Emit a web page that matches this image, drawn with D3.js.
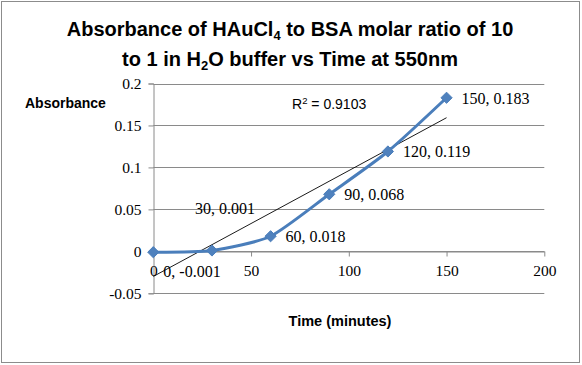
<!DOCTYPE html>
<html>
<head>
<meta charset="utf-8">
<script src="https://cdn.jsdelivr.net/npm/d3@7"></script>
<style>
  body { margin: 0; background: #fff; }
  svg { display: block; }
</style>
</head>
<body>
<svg id="chart" width="582" height="365"></svg>
<script>
// Data
const times = [0, 30, 60, 90, 120, 150];
const absorbance = [-0.001, 0.001, 0.018, 0.068, 0.119, 0.183];
const pointLabels = ['0, -0.001', '30, 0.001', '60, 0.018', '90, 0.068', '120, 0.119', '150, 0.183'];
const xTicks = [0, 50, 100, 150, 200];
const yTicks = [-0.05, 0, 0.05, 0.1, 0.15, 0.2];
const rSquared = '0.9103';

const svg = d3.select('#chart');
const width = 582, height = 365;

// plot area
const plotLeft = 153.3, plotRight = 544.3, plotTop = 83.5, plotBottom = 293.3;

const x = d3.scaleLinear().domain([0, 200]).range([plotLeft, plotRight]);
const y = d3.scaleLinear().domain([-0.05, 0.2]).range([plotBottom, plotTop]);

// outer frame
svg.append('rect')
    .attr('x', 1.5).attr('y', 1.5)
    .attr('width', width - 4).attr('height', height - 4)
    .attr('fill', '#fff')
    .attr('stroke', '#8c8c8c')
    .attr('stroke-width', 1);

// title, two lines with subscripts
const line1 = svg.append('text')
    .attr('text-anchor', 'middle')
    .attr('font-family', 'Liberation Sans, Arial, sans-serif')
    .attr('font-weight', 'bold')
    .attr('font-size', '20px')
    .attr('x', 290).attr('y', 36);
line1.append('tspan').text('Absorbance of HAuCl');
line1.append('tspan').attr('dy', 4).attr('font-size', '13px').text('4');
line1.append('tspan').attr('dy', -4).text(' to BSA molar ratio of 10');

const line2 = svg.append('text')
    .attr('text-anchor', 'middle')
    .attr('font-family', 'Liberation Sans, Arial, sans-serif')
    .attr('font-weight', 'bold')
    .attr('font-size', '20px')
    .attr('x', 290).attr('y', 66);
line2.append('tspan').text('to 1 in H');
line2.append('tspan').attr('dy', 4).attr('font-size', '13px').text('2');
line2.append('tspan').attr('dy', -4).text('O buffer vs Time at 550nm');

// horizontal gridlines
svg.append('g')
    .selectAll('line')
    .data(yTicks)
    .enter().append('line')
    .attr('x1', plotLeft).attr('x2', plotRight)
    .attr('y1', d => Math.round(y(d)) + 0.5)
    .attr('y2', d => Math.round(y(d)) + 0.5)
    .attr('stroke', '#8a8a8a')
    .attr('stroke-width', 1);

// y axis
const yAxis = d3.axisLeft(y).tickValues(yTicks).tickSize(5).tickFormat(d => String(+d.toFixed(2)));
const gy = svg.append('g')
    .attr('transform', `translate(${Math.round(plotLeft) + 0.5},0)`)
    .call(yAxis);
gy.select('.domain').attr('stroke', '#8a8a8a');
gy.selectAll('.tick line').attr('stroke', '#8a8a8a');
gy.selectAll('.tick text')
    .attr('font-family', 'Liberation Serif, Times New Roman, serif')
    .attr('font-size', '15.5px')
    .attr('fill', '#000')
    .attr('x', -12);

// x axis crossing at y = 0
const xAxis = d3.axisBottom(x).tickValues(xTicks).tickSize(5).tickSizeOuter(0);
const gx = svg.append('g')
    .attr('transform', `translate(0,${Math.round(y(0)) + 0.5})`)
    .call(xAxis);
gx.select('.domain').attr('stroke', '#8a8a8a');
gx.selectAll('.tick line').attr('stroke', '#8a8a8a');
gx.selectAll('.tick text')
    .attr('font-family', 'Liberation Serif, Times New Roman, serif')
    .attr('font-size', '15.5px')
    .attr('fill', '#000')
    .attr('y', 13);

// axis titles
svg.append('text')
    .attr('x', 25).attr('y', 108)
    .attr('font-family', 'Liberation Sans, Arial, sans-serif')
    .attr('font-weight', 'bold')
    .attr('font-size', '14px')
    .text('Absorbance');
svg.append('text')
    .attr('x', 340).attr('y', 326)
    .attr('text-anchor', 'middle')
    .attr('font-family', 'Liberation Sans, Arial, sans-serif')
    .attr('font-weight', 'bold')
    .attr('font-size', '14.5px')
    .text('Time (minutes)');

// linear trendline (least squares over the points)
const mx = d3.mean(times), my = d3.mean(absorbance);
const slope = d3.sum(times, (t, i) => (t - mx) * (absorbance[i] - my)) / d3.sum(times, t => (t - mx) * (t - mx));
const intercept = my - slope * mx;
const trendX = d3.extent(times);
svg.append('line')
    .attr('x1', x(trendX[0])).attr('y1', y(intercept + slope * trendX[0]))
    .attr('x2', x(trendX[1])).attr('y2', y(intercept + slope * trendX[1]))
    .attr('stroke', '#000')
    .attr('stroke-width', 0.9);

// smoothed series line
const points = times.map((t, i) => [t, absorbance[i]]);
const line = d3.line()
    .x(d => x(d[0]))
    .y(d => y(d[1]))
    .curve(d3.curveCardinal.tension(0.35));
svg.append('path')
    .datum(points)
    .attr('d', line)
    .attr('fill', 'none')
    .attr('stroke', '#4a7ebb')
    .attr('stroke-width', 3);

// diamond markers
svg.append('g')
    .selectAll('path')
    .data(points)
    .enter().append('path')
    .attr('transform', d => `translate(${x(d[0])},${y(d[1])})`)
    .attr('d', d3.symbol().type(d3.symbolDiamond2).size(80))
    .attr('fill', '#4f81bd')
    .attr('stroke', '#4a7ebb')
    .attr('stroke-width', 1);

// data labels: first two placed under / over, the rest to the right
const labelOffsets = [[10, 25], [-17, -37], [15, 6], [15, 6], [15, 6], [15, 6]];
svg.append('g')
    .selectAll('text')
    .data(points)
    .enter().append('text')
    .attr('x', (d, i) => x(d[0]) + labelOffsets[i][0])
    .attr('y', (d, i) => y(d[1]) + labelOffsets[i][1])
    .attr('font-family', 'Liberation Serif, Times New Roman, serif')
    .attr('font-size', '16px')
    .attr('fill', '#000')
    .text((d, i) => pointLabels[i]);

// R squared
const rt = svg.append('text')
    .attr('x', 292).attr('y', 109)
    .attr('font-family', 'Liberation Sans, Arial, sans-serif')
    .attr('font-size', '14px')
    .attr('fill', '#000');
rt.append('tspan').text('R');
rt.append('tspan').attr('dy', -5).attr('font-size', '9.5px').text('2');
rt.append('tspan').attr('dy', 5).text(' = ' + rSquared);
</script>
</body>
</html>
